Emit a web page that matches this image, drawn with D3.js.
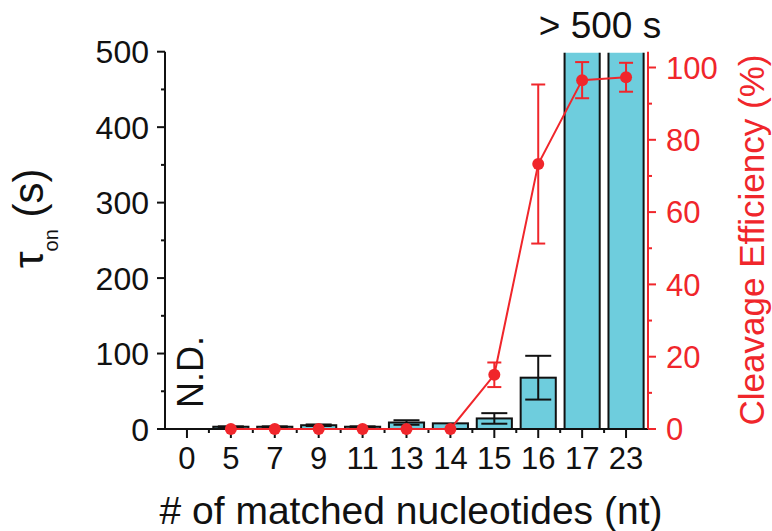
<!DOCTYPE html>
<html>
<head>
<meta charset="utf-8">
<script src="https://cdn.jsdelivr.net/npm/d3@7/dist/d3.min.js"></script>
<style>
  body { margin: 0; background: #fff; }
  svg { display: block; font-family: "Liberation Sans", Arial, sans-serif; }
</style>
</head>
<body>
<svg id="chart" width="772" height="531"></svg>
<script>
// ---- data ----
const categories = ["0", "5", "7", "9", "11", "13", "14", "15", "16", "17", "23"];
const tauOn      = [null, 3, 3, 5, 3, 8.6, 7.5, 14, 68, 500, 500];
const tauErr     = [null, 0.5, 0.5, 1, 0.5, 3, 0, 7, 29, null, null];
const cleavage   = [null, 0, 0, 0, 0, 0, 0, 15, 73.3, 96.5, 97.3];
const cleavageErr= [null, 0, 0, 0, 0, 0, 0, 3.4, 22, 5, 4];
const leftTicks  = [0, 100, 200, 300, 400, 500];
const leftMinor  = [50, 150, 250, 350, 450];
const rightTicks = [0, 20, 40, 60, 80, 100];
const rightMinor = [10, 30, 50, 70, 90];

(function () {
const RED = "#f0262b";
const BAR = "#6ecddd";

const svg = d3.select("#chart");
const pL = 165, pR = 648, pT = 51.7, pB = 429;

const xc = d3.scaleBand().domain(categories).range([pL, pR]).padding(0);
const yL = d3.scaleLinear().domain([0, 500]).range([pB, pT]);
const yR = d3.scaleLinear().domain([0, 100]).range([pB, 67.5]);

const rows = categories.map((c, i) => ({c, t: tauOn[i], te: tauErr[i], v: cleavage[i], ve: cleavageErr[i]}));
const cxOf = c => xc(c) + xc.bandwidth() / 2;

svg.append("defs").append("clipPath").attr("id", "plotclip")
  .append("rect").attr("x", 0).attr("y", pT + 1).attr("width", 772).attr("height", 531);

// bars (bars at the >500 limit run past the top and are clipped)
const bw = xc.bandwidth() * 0.8;
svg.append("g").attr("clip-path", "url(#plotclip)").selectAll("rect").data(rows.filter(d => d.t != null)).join("rect")
  .attr("x", d => xc(d.c) + (xc.bandwidth() - bw) / 2)
  .attr("y", d => yL(d.t) - (d.t >= 500 ? 10 : 0))
  .attr("width", bw)
  .attr("height", d => yL(0) - yL(d.t) + (d.t >= 500 ? 10 : 0))
  .attr("fill", BAR).attr("stroke", "#111").attr("stroke-width", 2);

// tau error bars
const eb = svg.append("g").attr("stroke", "#111").attr("stroke-width", 2);
rows.filter(d => d.t != null && d.te).forEach(d => {
  const cx = cxOf(d.c);
  eb.append("line").attr("x1", cx).attr("x2", cx).attr("y1", yL(d.t + d.te)).attr("y2", yL(Math.max(0, d.t - d.te)));
  [d.t + d.te, Math.max(0, d.t - d.te)].forEach(v => {
    eb.append("line").attr("x1", cx - 13).attr("x2", cx + 13).attr("y1", yL(v)).attr("y2", yL(v));
  });
});

// axes lines
const ax = svg.append("g");
ax.append("line").attr("x1", pL).attr("x2", pL).attr("y1", pT).attr("y2", pB + 1).attr("stroke", "#111").attr("stroke-width", 2);
ax.append("line").attr("x1", pL - 8).attr("x2", pR).attr("y1", pB).attr("y2", pB).attr("stroke", "#111").attr("stroke-width", 2);
ax.append("line").attr("x1", pR).attr("x2", pR).attr("y1", pT).attr("y2", pB).attr("stroke", RED).attr("stroke-width", 2);

// left ticks
leftTicks.forEach(v => {
  ax.append("line").attr("x1", pL - 8).attr("x2", pL).attr("y1", yL(v)).attr("y2", yL(v)).attr("stroke", "#111").attr("stroke-width", 2);
  ax.append("text").attr("x", pL - 16).attr("y", yL(v)).attr("dy", "0.36em").attr("text-anchor", "end")
    .attr("font-size", 32).attr("fill", "#111").text(v);
});
leftMinor.forEach(v => {
  ax.append("line").attr("x1", pL - 4).attr("x2", pL).attr("y1", yL(v)).attr("y2", yL(v)).attr("stroke", "#111").attr("stroke-width", 2);
});
// right ticks
rightTicks.forEach(v => {
  ax.append("line").attr("x1", pR).attr("x2", pR + 8).attr("y1", yR(v)).attr("y2", yR(v)).attr("stroke", RED).attr("stroke-width", 2);
  ax.append("text").attr("x", pR + 18).attr("y", yR(v)).attr("dy", "0.36em").attr("text-anchor", "start")
    .attr("font-size", 31).attr("fill", RED).text(v);
});
rightMinor.forEach(v => {
  ax.append("line").attr("x1", pR).attr("x2", pR + 4).attr("y1", yR(v)).attr("y2", yR(v)).attr("stroke", RED).attr("stroke-width", 2);
});
// x ticks
categories.forEach((c, i) => {
  const cx = cxOf(c);
  ax.append("line").attr("x1", cx).attr("x2", cx).attr("y1", pB).attr("y2", pB + 9).attr("stroke", "#111").attr("stroke-width", 2);
  ax.append("text").attr("x", cx).attr("y", 469).attr("text-anchor", "middle").attr("font-size", 31).attr("fill", "#111").text(c);
  if (i > 0) {
    const bx = xc(c);
    ax.append("line").attr("x1", bx).attr("x2", bx).attr("y1", pB).attr("y2", pB + 4).attr("stroke", "#111").attr("stroke-width", 2);
  }
});

// cleavage line + error bars + points
const pts = rows.filter(d => d.v != null);
const lineGen = d3.line().x(d => cxOf(d.c)).y(d => yR(d.v));
svg.append("path").datum(pts).attr("d", lineGen).attr("fill", "none").attr("stroke", RED).attr("stroke-width", 2);
const re = svg.append("g").attr("stroke", RED).attr("stroke-width", 2);
pts.filter(d => d.ve).forEach(d => {
  const cx = cxOf(d.c);
  re.append("line").attr("x1", cx).attr("x2", cx).attr("y1", yR(d.v + d.ve)).attr("y2", yR(d.v - d.ve));
  [d.v + d.ve, d.v - d.ve].forEach(v => {
    re.append("line").attr("x1", cx - 7).attr("x2", cx + 7).attr("y1", yR(v)).attr("y2", yR(v));
  });
});
svg.append("g").selectAll("circle").data(pts).join("circle")
  .attr("cx", d => cxOf(d.c)).attr("cy", d => yR(d.v)).attr("r", 6).attr("fill", RED);

// annotations
svg.append("text").attr("transform", "translate(203,408) rotate(-90)").attr("font-size", 36).attr("fill", "#111").text("N.D.");
svg.append("text").attr("x", 600).attr("y", 37.5).attr("text-anchor", "middle").attr("font-size", 37).attr("fill", "#111").text("> 500 s");

// axis titles
svg.append("text").attr("x", 411).attr("y", 524).attr("text-anchor", "middle").attr("font-size", 39).attr("fill", "#111")
  .text("# of matched nucleotides (nt)");
const yt = svg.append("text").attr("transform", "translate(43,268) rotate(-90)").attr("font-size", 42).attr("fill", "#111");
yt.append("tspan").text("τ");
yt.append("tspan").attr("font-size", 20).attr("dy", 15).text("on");
yt.append("tspan").attr("dy", -15).text(" (s)");
svg.append("text").attr("transform", "translate(764,240) rotate(-90)").attr("text-anchor", "middle").attr("font-size", 35).attr("fill", RED)
  .text("Cleavage Efficiency (%)");
})();
</script>
</body>
</html>
